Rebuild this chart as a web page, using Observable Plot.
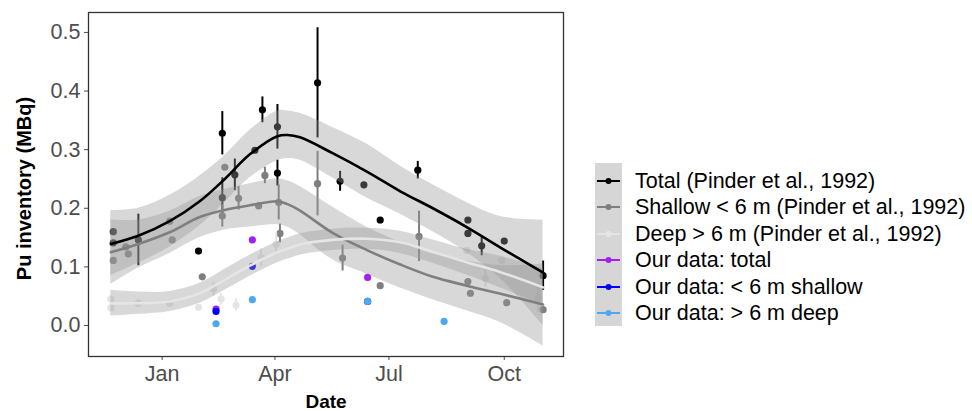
<!DOCTYPE html>
<html>
<head>
<meta charset="utf-8">
<script src="https://cdn.jsdelivr.net/npm/d3@7"></script>
<script src="https://cdn.jsdelivr.net/npm/@observablehq/plot@0.6"></script>
<style>
  html, body { margin: 0; padding: 0; background: #fff; }
  #wrap { position: relative; width: 972px; height: 411px; overflow: hidden; font-family: "Liberation Sans", Arial, Helvetica, sans-serif; }
  #chart { position: absolute; left: 0; top: 0; }
  .key-bg { position: absolute; left: 595px; top: 163px; width: 27px; height: 163px; background: #d6d6d6; }
  .row { position: absolute; left: 595px; height: 26px; display: flex; align-items: center; }
  .row svg { width: 27px; height: 26px; display: block; }
  .row span { margin-left: 13px; font-size: 21.5px; color: #000; white-space: nowrap; line-height: 26px; }
</style>
</head>
<body>
<div id="wrap"><div id="chart"></div><div id="legend"></div></div>
<script>
// ---------- data ----------
// Pinder et al. (1992): total inventory
const totalDates  = ["1986-11-23","1986-11-23","1986-12-13","1987-01-30","1987-02-18","1987-02-18","1987-02-28","1987-03-16","1987-03-22","1987-04-03","1987-04-03","1987-05-05","1987-05-23","1987-06-11","1987-06-24","1987-07-24","1987-09-02","1987-09-02","1987-09-13","1987-10-01","1987-11-01"];
const totalValues = [0.160,0.141,0.146,0.127,0.328,0.218,0.257,0.299,0.368,0.339,0.260,0.414,0.246,0.240,0.180,0.265,0.180,0.157,0.136,0.144,0.085];
const totalErrors = [0,0,0.044,0,0.037,0.034,0.027,0,0.022,0.038,0.022,0.094,0.017,0,0,0.015,0,0,0.017,0,0.025];

// Pinder et al. (1992): shallow < 6 m
const shallowDates  = ["1986-11-23","1986-12-03","1986-12-05","1987-01-07","1987-01-09","1987-02-02","1987-02-18","1987-02-20","1987-03-03","1987-03-19","1987-03-24","1987-04-04","1987-04-05","1987-05-05","1987-05-25","1987-06-24","1987-07-25","1987-09-02","1987-09-04","1987-10-03","1987-11-01"];
const shallowValues = [0.111,0.134,0.122,0.178,0.146,0.083,0.187,0.270,0.217,0.204,0.256,0.210,0.157,0.242,0.115,0.068,0.152,0.075,0.055,0.039,0.027];
const shallowErrors = [0,0,0,0,0,0,0.019,0,0.020,0,0.014,0.030,0.016,0.055,0.022,0,0.043,0,0,0,0];

// Pinder et al. (1992): deep > 6 m
const deepDates  = ["1986-11-21","1986-11-21","1986-12-13","1987-01-07","1987-01-30","1987-02-11","1987-02-17","1987-03-01","1987-03-21","1987-04-02","1987-09-01","1987-09-16","1987-09-29","1987-10-28"];
const deepValues = [0.045,0.030,0.038,0.038,0.031,0.062,0.045,0.035,0.116,0.139,0.128,0.080,0.111,0.048];
const deepErrors = [0,0,0.006,0,0,0.012,0.010,0.010,0.015,0.020,0,0.015,0,0.025];

// Our data
const ourDates   = ["1987-02-13","1987-03-14","1987-06-14","1987-08-14"];
const ourTotal   = [0.028,0.146,0.082,null];
const ourShallow = [0.024,0.101,0.041,null];
const ourDeep    = [0.003,0.044,0.041,0.007];

// Smoothed trends (loess fits with confidence bands)
const smoothDates = ["1986-11-21","1986-12-13","1987-01-07","1987-01-31","1987-02-20","1987-03-12","1987-04-03","1987-04-11","1987-04-21","1987-05-17","1987-06-13","1987-07-10","1987-08-05","1987-09-01","1987-09-28","1987-11-01"];
const totalFit   = [0.139,0.153,0.178,0.212,0.250,0.292,0.323,0.325,0.321,0.294,0.263,0.229,0.200,0.168,0.133,0.090];
const totalLo    = [0.085,0.106,0.134,0.170,0.210,0.252,0.281,0.285,0.282,0.252,0.218,0.190,0.160,0.125,0.080,0.000];
const totalHi    = [0.196,0.200,0.222,0.255,0.290,0.333,0.366,0.366,0.362,0.338,0.310,0.272,0.240,0.210,0.186,0.180];
const shallowFit = [0.125,0.139,0.159,0.185,0.197,0.205,0.212,0.207,0.196,0.158,0.129,0.104,0.083,0.068,0.054,0.036];
const shallowLo  = [0.070,0.098,0.123,0.150,0.163,0.168,0.172,0.168,0.155,0.112,0.088,0.064,0.044,0.025,0.005,-0.035];
const shallowHi  = [0.180,0.180,0.195,0.220,0.232,0.242,0.250,0.247,0.237,0.202,0.168,0.142,0.122,0.110,0.102,0.105];
const deepFit    = [0.038,0.038,0.041,0.055,0.078,0.102,0.125,0.131,0.138,0.146,0.148,0.142,0.126,0.108,0.091,0.065];
const deepLo     = [0.016,0.019,0.024,0.038,0.060,0.084,0.107,0.113,0.120,0.128,0.130,0.123,0.106,0.086,0.064,0.035];
const deepHi     = [0.060,0.057,0.058,0.072,0.096,0.120,0.143,0.149,0.156,0.164,0.166,0.161,0.146,0.130,0.118,0.097];

// Axes
const xTickDates = ["1987-01-01","1987-04-01","1987-07-01","1987-10-01"];
const yTickValues = [0, 0.1, 0.2, 0.3, 0.4, 0.5];
const xTitle = "Date";
const yTitle = "Pu inventory (MBq)";

// Legend
const legendLabels = ["Total (Pinder et al., 1992)","Shallow < 6 m (Pinder et al., 1992)","Deep > 6 m (Pinder et al., 1992)","Our data: total","Our data: < 6 m shallow","Our data: > 6 m deep"];

// ---------- styles ----------
const colTotal = "#000000", colShallow = "#7f7f7f", colDeep = "#e5e5e5";
const colOurTotal = "#A020F0", colOurShallow = "#0000FF", colOurDeep = "#4FA8EE";
const legendColors = [colTotal, colShallow, colDeep, colOurTotal, colOurShallow, colOurDeep];

// ---------- build tables ----------
const parseDate = d3.utcParse("%Y-%m-%d");
function series(dates, values, errors) {
  return dates.map((d, i) => ({date: parseDate(d), value: values[i], err: errors ? errors[i] : 0}))
              .filter(d => d.value != null);
}
function trend(fit, lo, hi) {
  return smoothDates.map((d, i) => ({date: parseDate(d), fit: fit[i], lo: lo[i], hi: hi[i]}));
}
const total = series(totalDates, totalValues, totalErrors);
const shallow = series(shallowDates, shallowValues, shallowErrors);
const deep = series(deepDates, deepValues, deepErrors);
const oTotal = series(ourDates, ourTotal);
const oShallow = series(ourDates, ourShallow);
const oDeep = series(ourDates, ourDeep);
const tTotal = trend(totalFit, totalLo, totalHi);
const tShallow = trend(shallowFit, shallowLo, shallowHi);
const tDeep = trend(deepFit, deepLo, deepHi);

const errBars = (data, color) => Plot.ruleX(data.filter(d => d.err > 0), {x: "date", y1: d => d.value - d.err, y2: d => d.value + d.err, stroke: color, strokeWidth: 2});
const dots = (data, color) => Plot.dot(data, {x: "date", y: "value", r: 3.6, fill: color, stroke: "none"});
const band = (data) => Plot.areaY(data, {x: "date", y1: "lo", y2: "hi", fill: "#999999", fillOpacity: 0.38, curve: "catmull-rom"});
const fitLine = (data, color) => Plot.line(data, {x: "date", y: "fit", stroke: color, strokeWidth: 2.6, curve: "catmull-rom"});

const chart = Plot.plot({
  width: 580,
  height: 411,
  marginLeft: 88,
  marginRight: 17,
  marginTop: 12,
  marginBottom: 55,
  style: {fontFamily: "'Liberation Sans', Arial, Helvetica, sans-serif", fontSize: "21.5px", background: "#fff", overflow: "visible"},
  x: {type: "utc", domain: [new Date(Date.UTC(1986, 10, 3, 5)), new Date(Date.UTC(1987, 10, 17, 7))]},
  y: {domain: [-0.0529, 0.534]},
  marks: [
    errBars(total, colTotal), dots(total, colTotal),
    errBars(shallow, colShallow), dots(shallow, colShallow),
    errBars(deep, colDeep), dots(deep, colDeep),
    dots(oTotal, colOurTotal), dots(oShallow, colOurShallow), dots(oDeep, colOurDeep),
    band(tTotal), band(tShallow), band(tDeep),
    fitLine(tTotal, colTotal), fitLine(tShallow, colShallow), fitLine(tDeep, colDeep),
    Plot.axisX({ticks: xTickDates.map(parseDate), tickFormat: d3.utcFormat("%b"), tickSize: 4, tickPadding: 5, label: null, color: "#4d4d4d", fontSize: 21.5}),
    Plot.axisY({ticks: yTickValues, tickFormat: d3.format(".1f"), tickSize: 4, tickPadding: 4, label: null, color: "#4d4d4d", fontSize: 21.5}),
    Plot.frame({stroke: "#333", strokeWidth: 1.3}),
    Plot.text([yTitle], {text: d => d, frameAnchor: "left", dx: -64, dy: 4, rotate: -90, textAnchor: "middle", lineAnchor: "middle", fontSize: 20, fontWeight: "bold", fill: "#000"}),
    Plot.text([xTitle], {text: d => d, frameAnchor: "bottom", dy: 45, textAnchor: "middle", lineAnchor: "middle", fontSize: 19, fontWeight: "bold", fill: "#000"})
  ]
});
document.getElementById("chart").appendChild(chart);

// ---------- legend ----------
const legend = document.getElementById("legend");
const bg = document.createElement("div");
bg.className = "key-bg";
legend.appendChild(bg);
legendLabels.forEach((label, i) => {
  const row = document.createElement("div");
  row.className = "row";
  row.style.top = (168 + 26.4 * i) + "px";
  const c = legendColors[i];
  row.innerHTML = `<svg viewBox="0 0 27 26"><line x1="2" x2="25" y1="13" y2="13" stroke="${c}" stroke-width="2"/><circle cx="13.5" cy="13" r="3" fill="${c}"/></svg><span></span>`;
  row.querySelector("span").textContent = label;
  legend.appendChild(row);
});
</script>
</body>
</html>
